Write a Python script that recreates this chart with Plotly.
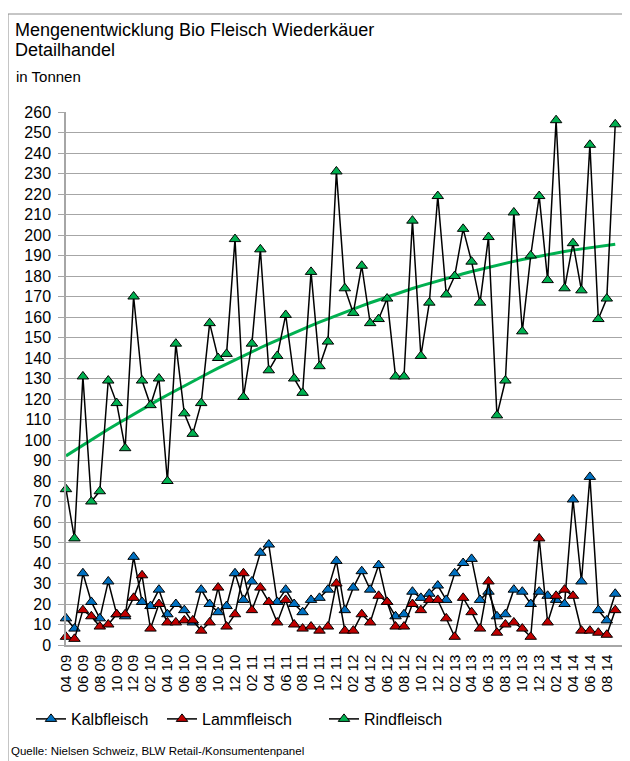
import numpy as np
import plotly.graph_objects as go

# ---------------- data ----------------
months = [
    "04 09", "05 09", "06 09", "07 09", "08 09", "09 09", "10 09", "11 09", "12 09",
    "01 10", "02 10", "03 10", "04 10", "05 10", "06 10", "07 10", "08 10", "09 10", "10 10", "11 10", "12 10",
    "01 11", "02 11", "03 11", "04 11", "05 11", "06 11", "07 11", "08 11", "09 11", "10 11", "11 11", "12 11",
    "01 12", "02 12", "03 12", "04 12", "05 12", "06 12", "07 12", "08 12", "09 12", "10 12", "11 12", "12 12",
    "01 13", "02 13", "03 13", "04 13", "05 13", "06 13", "07 13", "08 13", "09 13", "10 13", "11 13", "12 13",
    "01 14", "02 14", "03 14", "04 14", "05 14", "06 14", "07 14", "08 14", "09 14",
]

kalbfleisch = [13, 8, 35, 21, 13, 31, 15, 14, 43,
               21, 19, 27, 15, 20, 17, 11, 27, 20, 16, 19, 35,
               22, 31, 45, 49, 21, 27, 20, 16, 22, 23, 27, 41,
               17, 28, 36, 27, 39, 21, 14, 15, 26, 23, 25, 29,
               22, 35, 40, 42, 22, 26, 14, 15, 27, 26, 20, 26,
               24, 22, 20, 71, 31, 82, 17, 12, 25]

lammfleisch = [4, 3, 17, 14, 9, 10, 15, 15, 23,
               34, 8, 20, 11, 11, 12, 12, 7, 11, 28, 9, 15,
               35, 17, 28, 21, 11, 22, 10, 8, 9, 7, 9, 30,
               7, 7, 15, 11, 24, 21, 9, 9, 20, 17, 22, 22,
               13, 4, 23, 16, 8, 31, 6, 10, 11, 8, 4, 52,
               11, 24, 27, 24, 7, 7, 6, 5, 17]

rindfleisch = [76, 52, 131, 70, 75, 129, 118, 96, 170,
               129, 117, 130, 80, 147, 113, 103, 118, 157, 140, 142, 198,
               121, 147, 193, 134, 141, 161, 130, 123, 182, 136, 148, 231,
               174, 162, 185, 157, 159, 169, 131, 131, 207, 141, 167, 219,
               171, 180, 203, 187, 167, 199, 112, 129, 211, 153, 190, 219,
               178, 256, 174, 196, 173, 244, 159, 169, 254]

series_names = ["Kalbfleisch", "Lammfleisch", "Rindfleisch"]
series_colors = ["#0070C0", "#C00000", "#00B050"]

tick_labels = months[::2]

# ---------------- layout helpers (page pixel coordinates) ----------------
OFF = 8                      # default body margin of the html page
PAGE_W, PAGE_H = 630, 761
W, H = PAGE_W - OFF, PAGE_H - OFF
L, R, T, B = 66, 622, 112, 645   # plot area in page pixels


def px_x(p):
    return (p - L) / (R - L)


def px_y(p):
    return (B - p) / (B - T)


FONT = "Liberation Sans, Arial, sans-serif"

idx = list(range(len(months)))

fig = go.Figure()

# polynomial (order 2) trendline of Rindfleisch
xs = np.arange(1, len(rindfleisch) + 1)
coef = np.polyfit(xs, rindfleisch, 2)
trend = np.polyval(coef, xs)
fig.add_trace(go.Scatter(
    x=idx, y=trend, mode="lines", line=dict(color="#00B050", width=3),
    showlegend=False, hoverinfo="skip", cliponaxis=False))

legends = ["legend", "legend2", "legend3"]
for name, vals, col, lg in zip(series_names, [kalbfleisch, lammfleisch, rindfleisch],
                               series_colors, legends):
    fig.add_trace(go.Scatter(
        x=idx, y=vals, name=name, mode="lines+markers",
        line=dict(color="black", width=1.5),
        marker=dict(symbol="triangle-up", size=10, color=col,
                    line=dict(color="black", width=1)),
        cliponaxis=False, legend=lg))

legend_common = dict(orientation="h", yanchor="middle", y=px_y(719),
                     font=dict(family=FONT, size=16, color="#000000"),
                     bgcolor="rgba(0,0,0,0)", borderwidth=0,
                     itemwidth=30, tracegroupgap=0)

fig.update_layout(
    width=W, height=H,
    margin=dict(l=L - OFF, r=PAGE_W - R, t=T - OFF, b=PAGE_H - B, autoexpand=False),
    paper_bgcolor="white", plot_bgcolor="white",
    font=dict(family=FONT, color="#000000"),
    showlegend=True,
    legend=dict(x=px_x(31), **legend_common),
    legend2=dict(x=px_x(162), **legend_common),
    legend3=dict(x=px_x(324), **legend_common),
    xaxis=dict(
        range=[0, 65.8], tickmode="array", tickvals=idx[::2], ticktext=tick_labels,
        tickangle=-90, tickfont=dict(family=FONT, size=15, color="#000000"),
        showgrid=False, zeroline=False, showline=True, linecolor="#A6A6A6", linewidth=1.5,
        ticks="", ticklabelstandoff=2),
    yaxis=dict(
        range=[0, 260], dtick=10, tick0=0,
        tickfont=dict(family=FONT, size=16, color="#000000"),
        showgrid=True, gridcolor="#A6A6A6", gridwidth=1.4,
        zeroline=False, showline=True, linecolor="#A6A6A6", linewidth=1.5,
        ticks="outside", ticklen=6, tickcolor="#A6A6A6", tickwidth=1.4,
        ticklabelstandoff=4),
)

annotations = [
    dict(text="Mengenentwicklung Bio Fleisch Wiederkäuer", x=px_x(13), y=px_y(30),
         font=dict(size=18)),
    dict(text="Detailhandel", x=px_x(13), y=px_y(50), font=dict(size=18)),
    dict(text="in Tonnen", x=px_x(14), y=px_y(77), font=dict(size=15)),
    dict(text="Quelle: Nielsen Schweiz, BLW Retail-/Konsumentenpanel", x=px_x(9), y=px_y(751),
         font=dict(size=11.5)),
]
for a in annotations:
    a["font"].update(family=FONT, color="#000000")
    fig.add_annotation(xref="paper", yref="paper", xanchor="left", yanchor="middle",
                       showarrow=False, align="left", **a)

fig.add_shape(type="rect", xref="paper", yref="paper",
              x0=px_x(8), x1=px_x(700), y0=px_y(820), y1=px_y(14),
              line=dict(color="#8C8C8C", width=1), fillcolor="rgba(0,0,0,0)", layer="below")

fig.write_html("out.html")
